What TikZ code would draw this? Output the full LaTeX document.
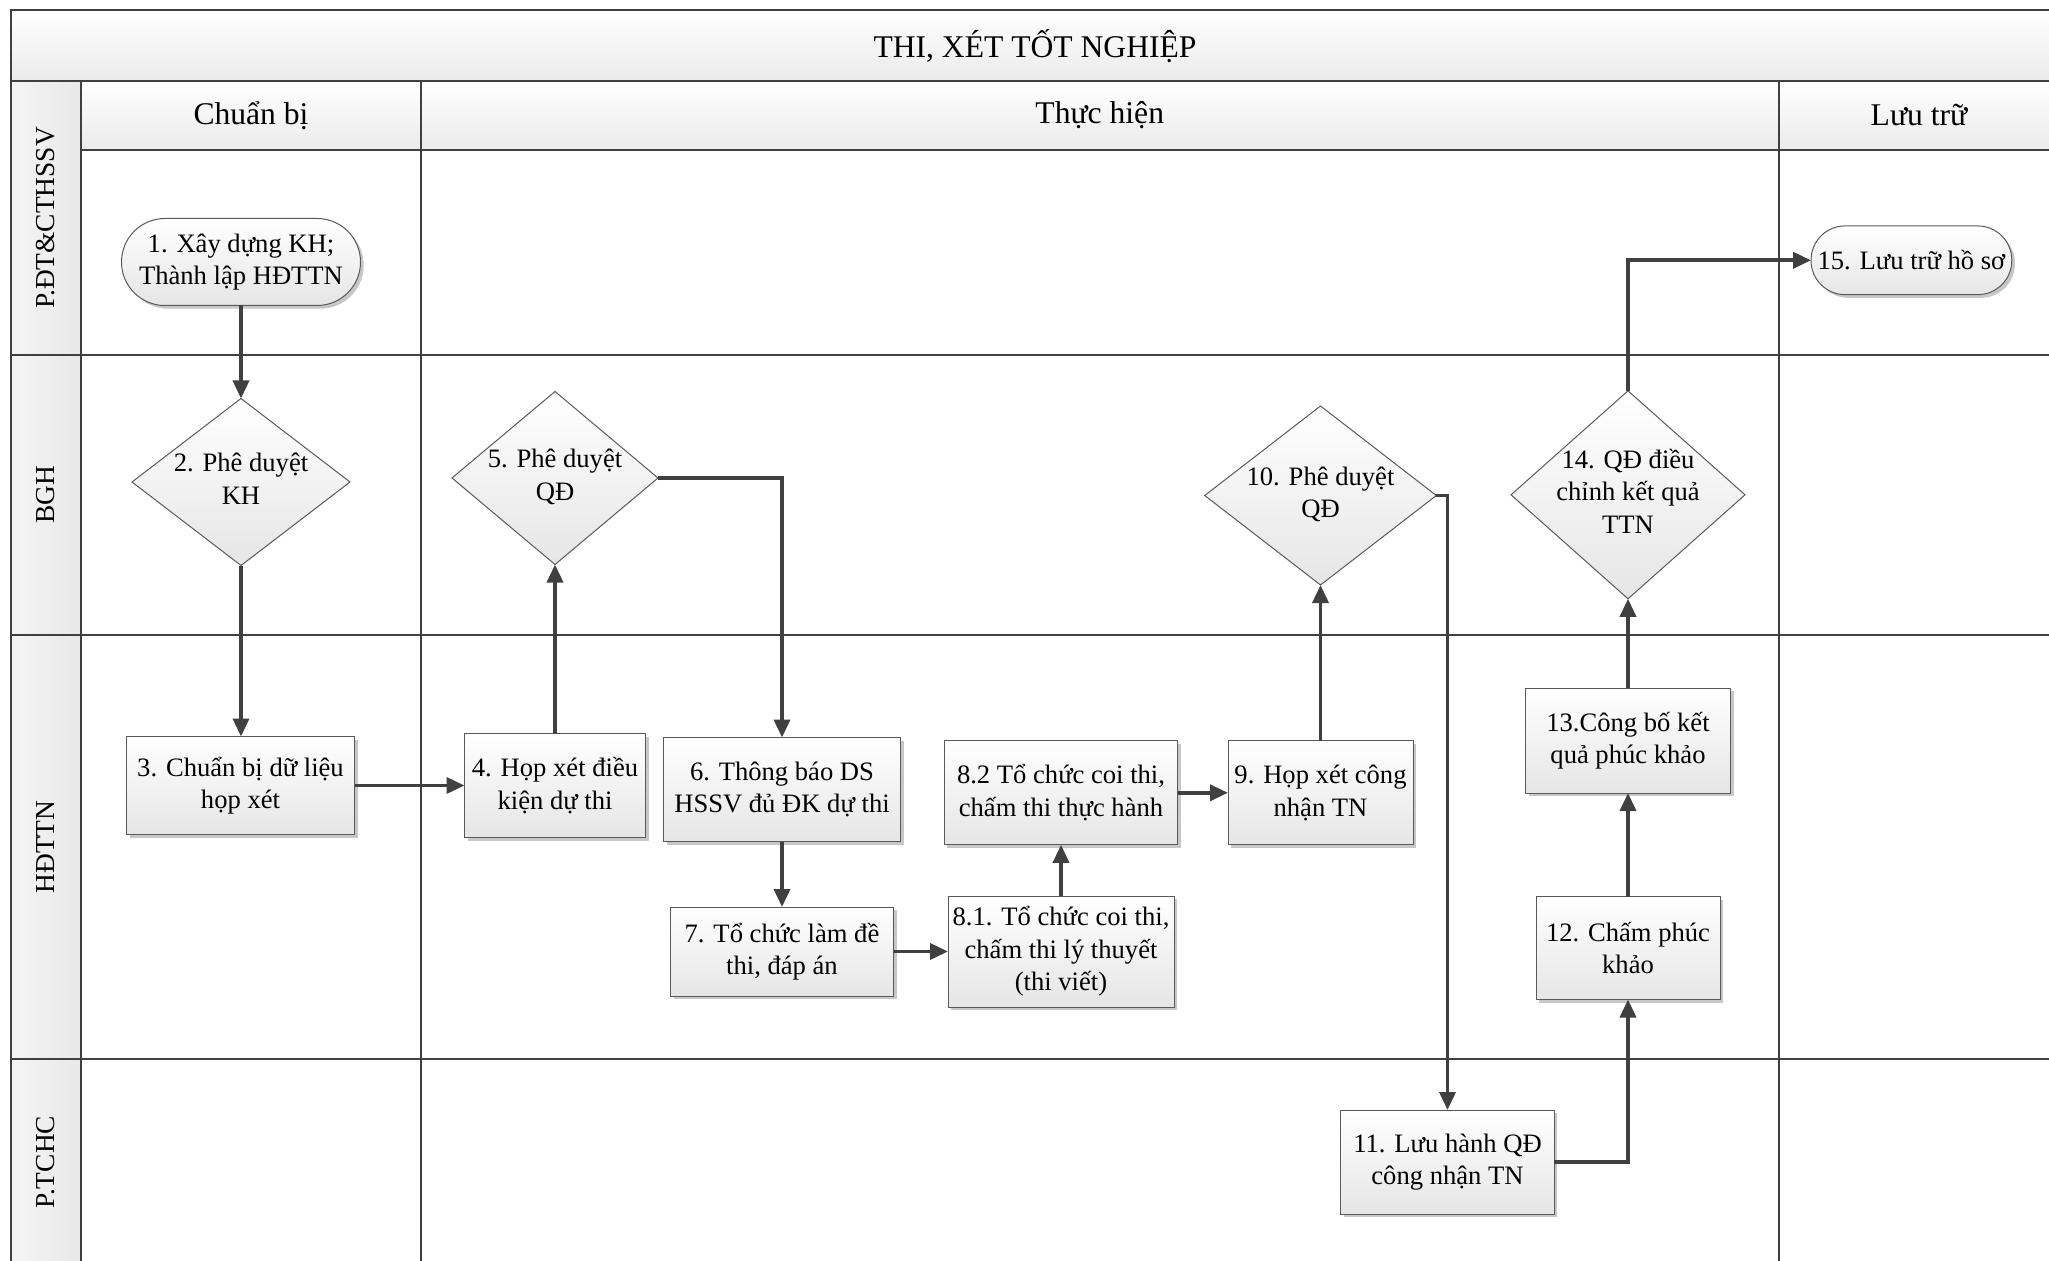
\documentclass[tikz,border=0pt]{standalone}
\usepackage{fontspec}
\setmainfont{Liberation Serif}
\usetikzlibrary{shapes.geometric,shadows,arrows.meta}
\newcommand\nfont{\fontsize{13.3}{16.3}\selectfont}
\newcommand\hfont{\fontsize{15.8}{19}\selectfont}
\newcommand\lfont{\fontsize{13.7}{16.5}\selectfont}
\newcommand\dtext[1]{\makebox[0pt]{\smash{\raisebox{-.25em}{\begin{tabular}{@{}c@{}}#1\end{tabular}}}}}
\definecolor{linegray}{HTML}{404040}
\definecolor{bordergray}{HTML}{5A5A5A}
\tikzset{
  gridline/.style={draw=linegray, line width=1pt},
  flow/.style={draw=linegray, line width=1.8pt, -{Triangle[length=9pt,width=8pt]}},
  boxbase/.style={draw=bordergray, line width=0.5pt, top color=white, bottom color=black!10,
    inner sep=0pt, outer sep=0pt, align=center, font=\nfont},
  shad/.style={drop shadow={shadow xshift=1.6pt, shadow yshift=-1.6pt, fill=black!22, opacity=1}},
  proc/.style={boxbase, shad, rectangle},
  termbox/.style={boxbase, shad, rectangle},
  dec/.style={boxbase, diamond},
  lanelabel/.style={rotate=90, font=\lfont, inner sep=0pt},
  headtext/.style={font=\hfont, inner sep=0pt},
}
\begin{document}
\begin{tikzpicture}[x=0.5pt,y=-0.5pt]
\useasboundingbox (0,0) rectangle (2049,1261);
\clip (0,0) rectangle (2049,1261);
% backgrounds
\shade[top color=white, bottom color=black!8] (10.5,10.5) rectangle (2060,81);
\shade[top color=white, bottom color=black!8] (81,81) rectangle (2060,150);
\shade[left color=black!4, right color=black!9] (10.5,81) rectangle (81,1270);
% grid
\draw[gridline] (10.5,10.5) rectangle (2060,1270);
\draw[gridline] (10.5,81) -- (2060,81);
\draw[gridline] (81,150) -- (2060,150);
\draw[gridline] (81,81) -- (81,1270);
\draw[gridline] (421,81) -- (421,1270);
\draw[gridline] (1778.5,81) -- (1778.5,1270);
\draw[gridline] (10.5,355.5) -- (2060,355.5);
\draw[gridline] (10.5,635) -- (2060,635);
\draw[gridline] (10.5,1058.5) -- (2060,1058.5);
% titles
\node[headtext] (title) at (1035,45.7) {THI, XÉT TỐT NGHIỆP};
\node[headtext] (hchuanbi) at (251,115.5) {Chuẩn bị};
\node[headtext] (hthuchien) at (1099.75,115.5) {Thực hiện};
\node[headtext] (hluutru) at (1919,115.5) {Lưu trữ};
\node[lanelabel] (lpdt) at (45.75,218) {P.ĐT\&CTHSSV};
\node[lanelabel] (lbgh) at (45.75,495) {BGH};
\node[lanelabel] (lhd) at (45.75,847) {HĐTTN};
\node[lanelabel] (ltchc) at (45.75,1162) {P.TCHC};
% nodes
\node[termbox, rounded corners=21.7pt, minimum width=119.5pt, minimum height=43.5pt] (n1) at (241,262) {1. Xây dựng KH;\\Thành lập HĐTTN};
\node[dec, minimum width=109pt, minimum height=83.5pt] (n2) at (241,482) {\dtext{2. Phê duyệt\\KH}};
\node[proc, minimum width=114pt, minimum height=49pt] (n3) at (240.5,785.5) {3. Chuẩn bị dữ liệu\\họp xét};
\node[proc, minimum width=90.5pt, minimum height=52pt] (n4) at (555,785.5) {4. Họp xét điều\\kiện dự thi};
\node[dec, minimum width=103pt, minimum height=86.5pt] (n5) at (555,478) {\dtext{5. Phê duyệt\\QĐ}};
\node[proc, minimum width=118.5pt, minimum height=52pt] (n6) at (782,789.5) {6. Thông báo DS\\HSSV đủ ĐK dự thi};
\node[proc, minimum width=111.5pt, minimum height=44.5pt] (n7) at (782,951.5) {7. Tổ chức làm đề\\thi, đáp án};
\node[proc, minimum width=113pt, minimum height=55.5pt] (n81) at (1061,951.5) {8.1. Tổ chức coi thi,\\chấm thi lý thuyết\\(thi viết)};
\node[proc, minimum width=116.75pt, minimum height=52pt] (n82) at (1061,792.8) {8.2 Tổ chức coi thi,\\chấm thi thực hành};
\node[proc, minimum width=92.5pt, minimum height=52pt] (n9) at (1320.5,792.8) {9. Họp xét công\\nhận TN};
\node[dec, minimum width=115.8pt, minimum height=89.5pt] (n10) at (1320.5,495.5) {\dtext{10. Phê duyệt\\QĐ}};
\node[proc, minimum width=106.75pt, minimum height=52pt] (n11) at (1447.5,1162) {11. Lưu hành QĐ\\công nhận TN};
\node[proc, minimum width=92pt, minimum height=51.5pt] (n12) at (1628,948) {12. Chấm phúc\\khảo};
\node[proc, minimum width=102.5pt, minimum height=52.5pt] (n13) at (1628,740.5) {13.Công bố kết\\quả phúc khảo};
\node[dec, minimum width=117pt, minimum height=104pt] (n14) at (1628,494.8) {\dtext{14. QĐ điều\\chỉnh kết quả\\TTN}};
\node[termbox, rounded corners=17pt, minimum width=100.35pt, minimum height=34.35pt] (n15) at (1911.4,260.3) {15. Lưu trữ hồ sơ};
% connectors
\draw[flow] (n1.south) -- (n1.south |- n2.north);
\draw[flow] (n2.south) -- (n2.south |- n3.north);
\draw[flow] (n3.east) -- (n3.east -| n4.west);
\draw[flow] (n4.north) -- (n4.north |- n5.south);
\draw[flow] (n5.east) -| (n6.north);
\draw[flow] (n6.south) -- (n6.south |- n7.north);
\draw[flow] (n7.east) -- (n7.east -| n81.west);
\draw[flow] (n81.north) -- (n81.north |- n82.south);
\draw[flow] (n82.east) -- (n82.east -| n9.west);
\draw[flow] (n9.north) -- (n9.north |- n10.south);
\draw[flow] (n10.east) -| (n11.north);
\draw[flow] (n11.east) -| (n12.south);
\draw[flow] (n12.north) -- (n12.north |- n13.south);
\draw[flow] (n13.north) -- (n13.north |- n14.south);
\draw[flow] (n14.north) |- (n15.west);
\end{tikzpicture}
\end{document}
